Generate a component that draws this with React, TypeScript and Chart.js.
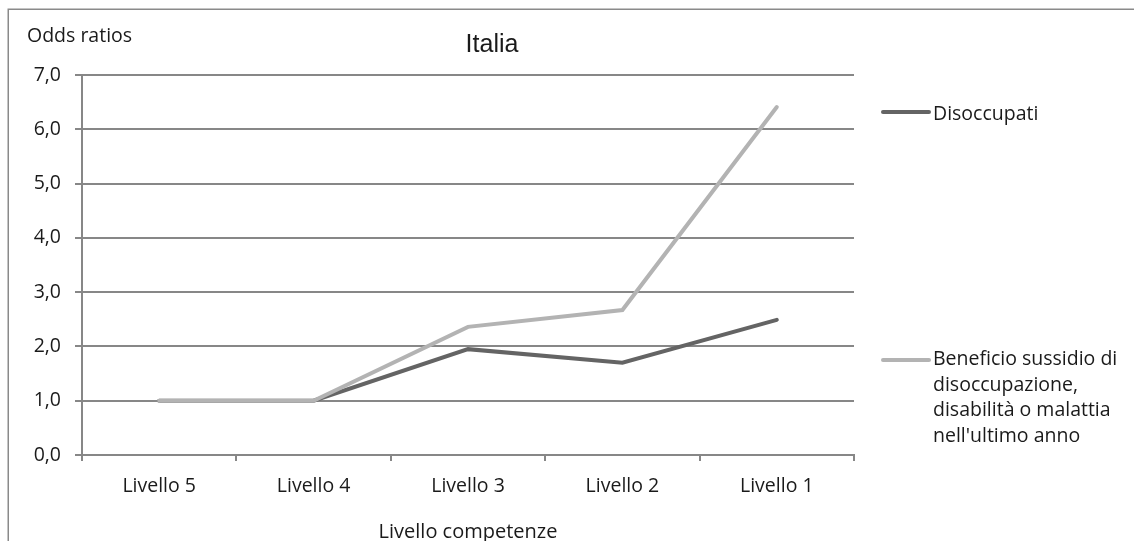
import React, { useEffect, useRef } from "react";
import { Chart, registerables } from "chart.js";

Chart.register(...registerables);

const categories = ["Livello 5", "Livello 4", "Livello 3", "Livello 2", "Livello 1"];
const disoccupati = [1.0, 1.0, 1.95, 1.7, 2.49];
const beneficio = [1.0, 1.0, 2.36, 2.67, 6.41];
const seriesNames = [
  "Disoccupati",
  "Beneficio sussidio di disoccupazione, disabilità o malattia nell'ultimo anno",
];
const legendLines = [
  ["Disoccupati"],
  ["Beneficio sussidio di", "disoccupazione,", "disabilità o malattia", "nell'ultimo anno"],
];
const chartTitle = "Italia";
const yAxisTitle = "Odds ratios";
const xAxisTitle = "Livello competenze";

const DARK = "#646464";
const LIGHT = "#b3b3b3";
const GRID = "#878787";
const TEXT = "#1a1a1a";
const FONT = "'Open Sans', sans-serif";

const W = 1134;
const H = 541;

const decorPlugin = {
  id: "decor",
  afterDraw(chart: any) {
    const ctx = chart.ctx as CanvasRenderingContext2D;
    ctx.save();
    // outer frame
    ctx.strokeStyle = "#8a8a8a";
    ctx.lineWidth = 1.5;
    ctx.beginPath();
    ctx.moveTo(8.25, H);
    ctx.lineTo(8.25, 9.25);
    ctx.lineTo(W, 9.25);
    ctx.stroke();

    ctx.fillStyle = TEXT;
    ctx.textBaseline = "alphabetic";
    // y axis title
    ctx.font = `19.5px ${FONT}`;
    ctx.textAlign = "left";
    ctx.fillText(yAxisTitle, 27, 42);
    // chart title
    ctx.font = `25px 'Liberation Sans', Arial, sans-serif`;
    ctx.textAlign = "center";
    ctx.fillText(chartTitle, 492, 52);
    // x axis title
    ctx.font = `20px ${FONT}`;
    const xs = chart.scales.x;
    ctx.fillText(xAxisTitle, (xs.left + xs.right) / 2, 538);

    // legend
    const entries = [
      { color: chart.data.datasets[1].borderColor, lines: legendLines[0], y: 112, base: 120 },
      { color: chart.data.datasets[0].borderColor, lines: legendLines[1], y: 360, base: 365 },
    ];
    ctx.font = `19.5px ${FONT}`;
    ctx.textAlign = "left";
    entries.forEach((e) => {
      ctx.strokeStyle = e.color;
      ctx.lineWidth = 4;
      ctx.lineCap = "round";
      ctx.beginPath();
      ctx.moveTo(883, e.y);
      ctx.lineTo(929, e.y);
      ctx.stroke();
      ctx.fillStyle = TEXT;
      e.lines.forEach((ln: string, i: number) => {
        ctx.fillText(ln, 933, e.base + i * 25.5);
      });
    });
    ctx.restore();
  },
};

export default function App() {
  const ref = useRef<HTMLCanvasElement | null>(null);

  useEffect(() => {
    if (!ref.current) return;
    const chart = new Chart(ref.current, {
      type: "line",
      data: {
        labels: categories,
        datasets: [
          {
            label: seriesNames[1],
            data: beneficio,
            borderColor: LIGHT,
            backgroundColor: LIGHT,
            borderWidth: 4,
            pointRadius: 0,
            borderCapStyle: "round",
            borderJoinStyle: "miter",
            tension: 0,
            order: 0,
          },
          {
            label: seriesNames[0],
            data: disoccupati,
            borderColor: DARK,
            backgroundColor: DARK,
            borderWidth: 4,
            pointRadius: 0,
            borderCapStyle: "round",
            borderJoinStyle: "miter",
            tension: 0,
            order: 1,
          },
        ],
      },
      options: {
        responsive: false,
        animation: false,
        devicePixelRatio: 1,
        layout: { padding: { left: 0, top: 75, right: W - 854, bottom: 0 } },
        plugins: {
          legend: { display: false },
          title: { display: false },
          tooltip: { enabled: false },
        },
        scales: {
          x: {
            type: "category",
            offset: true,
            afterFit: (s: any) => {
              s.height = H - 455;
            },
            grid: {
              offset: true,
              drawOnChartArea: false,
              drawTicks: true,
              tickLength: 6,
              color: GRID,
              lineWidth: 2,
            },
            border: { display: true, color: GRID, width: 2 },
            ticks: {
              color: TEXT,
              font: { family: FONT, size: 19.5 },
              padding: 14,
              maxRotation: 0,
              autoSkip: false,
            },
          },
          y: {
            min: 0,
            max: 7,
            afterFit: (s: any) => {
              s.width = 82;
            },
            grid: {
              color: GRID,
              lineWidth: 2,
              drawTicks: true,
              tickLength: 7,
            },
            border: { display: true, color: GRID, width: 2 },
            ticks: {
              stepSize: 1,
              color: TEXT,
              font: { family: FONT, size: 19.5 },
              padding: 14,
              callback: (v: any) => Number(v).toFixed(1).replace(".", ","),
            },
          },
        },
      },
      plugins: [decorPlugin],
    });
    return () => chart.destroy();
  }, []);

  return (
    <div style={{ position: "fixed", left: 0, top: 0, width: W, height: H, background: "#fff" }}>
      <canvas ref={ref} width={W} height={H} style={{ width: W, height: H, display: "block" }} />
    </div>
  );
}
